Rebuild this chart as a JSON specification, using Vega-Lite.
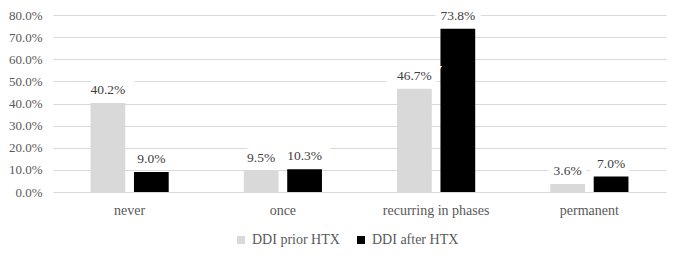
{
  "$schema": "https://vega.github.io/schema/vega-lite/v6.json",
  "autosize": {"type": "none"},
  "width": 613,
  "height": 177,
  "padding": {"left": 53, "top": 15, "right": 19, "bottom": 68},
  "background": "white",
  "config": {
    "font": "Liberation Serif",
    "view": {"stroke": null},
    "axis": {"labelFont": "Liberation Serif", "labelColor": "#595959", "labelFontSize": 13},
    "legend": {"labelFont": "Liberation Serif"},
    "text": {"font": "Liberation Serif"}
  },
  "data": {
    "values": [
      {"category": "never", "series": "DDI prior HTX", "value": 0.402},
      {"category": "never", "series": "DDI after HTX", "value": 0.090},
      {"category": "once", "series": "DDI prior HTX", "value": 0.095},
      {"category": "once", "series": "DDI after HTX", "value": 0.103},
      {"category": "recurring in phases", "series": "DDI prior HTX", "value": 0.467},
      {"category": "recurring in phases", "series": "DDI after HTX", "value": 0.738},
      {"category": "permanent", "series": "DDI prior HTX", "value": 0.036},
      {"category": "permanent", "series": "DDI after HTX", "value": 0.070}
    ]
  },
  "encoding": {
    "x": {
      "field": "category", "type": "nominal",
      "sort": ["never", "once", "recurring in phases", "permanent"],
      "scale": {"paddingInner": 0.49, "paddingOuter": 0.245},
      "axis": {"title": null, "labelAngle": 0, "domain": false, "ticks": false, "labelPadding": 11, "labelFontSize": 14}
    },
    "xOffset": {
      "field": "series", "type": "nominal",
      "sort": ["DDI prior HTX", "DDI after HTX"],
      "scale": {"paddingInner": 0.2, "paddingOuter": 0}
    },
    "y": {
      "field": "value", "type": "quantitative",
      "scale": {"domain": [0, 0.8], "nice": false},
      "axis": {
        "title": null, "format": ".1%", "values": [0, 0.1, 0.2, 0.3, 0.4, 0.5, 0.6, 0.7, 0.8],
        "domain": false, "ticks": false, "labelPadding": 11,
        "grid": true, "gridColor": "#d9d9d9", "gridWidth": 1
      }
    }
  },
  "layer": [
    {
      "mark": {"type": "bar"},
      "encoding": {
        "color": {
          "field": "series", "type": "nominal",
          "scale": {"domain": ["DDI prior HTX", "DDI after HTX"], "range": ["#d9d9d9", "#000000"]},
          "legend": {
            "title": null, "orient": "none", "direction": "horizontal",
            "legendX": 181, "legendY": 218,
            "symbolType": "square", "symbolSize": 64, "symbolStrokeWidth": 0,
            "labelFontSize": 14, "labelColor": "#595959",
            "labelOffset": 4, "columnPadding": 14
          }
        }
      }
    },
    {
      "mark": {"type": "text", "baseline": "middle", "dy": -13, "fontSize": 13.5, "color": "white", "stroke": "white", "strokeWidth": 12, "strokeJoin": "miter"},
      "encoding": {
        "text": {"field": "value", "type": "quantitative", "format": ".1%"}
      }
    },
    {
      "mark": {"type": "text", "baseline": "middle", "dy": -13, "fontSize": 13.5, "color": "#404040"},
      "encoding": {
        "text": {"field": "value", "type": "quantitative", "format": ".1%"}
      }
    }
  ]
}
